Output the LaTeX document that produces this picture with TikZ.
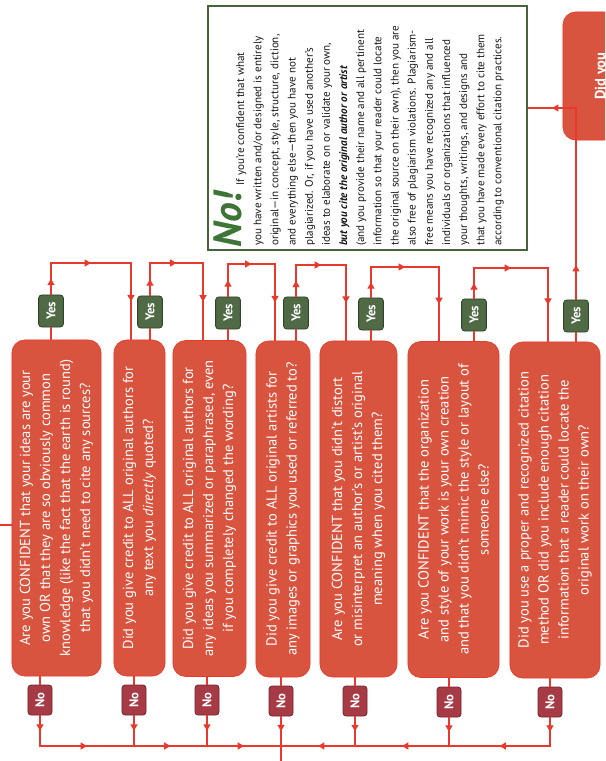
\documentclass[tikz,border=0pt]{standalone}
\usepackage{fontspec}
\setmainfont{PT Sans}
\usepackage{graphicx}
\usetikzlibrary{positioning,arrows.meta,decorations.markings}

\definecolor{flowred}{HTML}{E8392C}
\definecolor{boxred}{HTML}{D9543F}
\definecolor{yesgreen}{HTML}{4F6A45}
\definecolor{yesdark}{HTML}{2F4527}
\definecolor{nored}{HTML}{A63A45}
\definecolor{nodark}{HTML}{7A2430}
\definecolor{framegreen}{HTML}{46633A}
\definecolor{nogreen}{HTML}{3E7436}

% text that reads from bottom to top
\newcommand{\uptext}[2]{\rotatebox{90}{\parbox{#1}{\centering #2}}}

\begin{document}
\begin{tikzpicture}[x=0.025cm, y=-0.025cm,
	question/.style={rectangle, draw=flowred, line width=0.5pt, fill=boxred,
		rounded corners=3.2mm, text=white, inner sep=0pt,
		font=\fontsize{10.3}{14.2}\selectfont},
	yes/.style={rectangle, draw=yesdark, line width=0.6pt, fill=yesgreen,
		rounded corners=0.8mm, text=white, inner sep=0pt,
		minimum width=0.62cm, minimum height=0.8cm,
		font=\fontsize{9}{10}\selectfont\bfseries},
	no/.style={rectangle, draw=nodark, line width=0.6pt, fill=nored,
		rounded corners=0.8mm, text=white, inner sep=0pt,
		minimum width=0.6cm, minimum height=0.75cm,
		font=\fontsize{9}{10}\selectfont\bfseries},
	nopanel/.style={rectangle, draw=framegreen, line width=1.6pt, fill=white},
	flow/.style={draw=flowred, line width=0.8pt, line cap=rect},
	midarrow/.style={postaction={decorate}, decoration={markings,
		mark=at position #1 with {\arrow[flowred]{Triangle[length=4.5pt, width=5pt]}}}},
	midarrow/.default=0.5
	]
	\useasboundingbox (0,0) rectangle (605,761);
	\clip (0,0) rectangle (605,761);
	\fill[white] (0,0) rectangle (605,761);

	% questions
	\node (q1) [question, minimum width=2.225cm, minimum height=8.4cm] at (56.5,508)
		{\uptext{8.2cm}{Are you CONFIDENT that your ideas are your\\ own OR that they are so obviously common\\ knowledge (like the fact that the earth is round)\\ that you didn't need to cite any sources?}};
	\node (q2) [question, minimum width=1.275cm, minimum height=8.4cm] at (139.5,508)
		{\uptext{8.2cm}{Did you give credit to ALL original authors for\\ any text you \textit{directly} quoted?}};
	\node (q3) [question, minimum width=1.825cm, minimum height=8.4cm] at (209.5,508.5)
		{\uptext{8.2cm}{Did you give credit to ALL original authors for\\ any ideas you summarized or paraphrased, even\\ if you completely changed the wording?}};
	\node (q4) [question, minimum width=1.35cm, minimum height=8.4cm] at (283,509)
		{\uptext{8.2cm}{Did you give credit to ALL original artists for\\ any images or graphics you used or referred to?}};
	\node (q5) [question, minimum width=1.925cm, minimum height=8.4cm] at (358.5,509)
		{\uptext{8.2cm}{Are you CONFIDENT that you didn't distort\\ or misinterpret an author's or artist's original\\ meaning when you cited them?}};
	\node (q6) [question, minimum width=2.275cm, minimum height=8.4cm] at (453.5,509.5)
		{\uptext{8.2cm}{Are you CONFIDENT that the organization\\ and style of your work is your own creation\\ and that you didn't mimic the style or layout of\\ someone else?}};
	\node (q7) [question, minimum width=2.25cm, minimum height=8.4cm] at (555,510)
		{\uptext{8.2cm}{Did you use a proper and recognized citation\\ method OR did you include enough citation\\ information that a reader could locate the\\ original work on their own?}};
	\node (q8) [question, font=\fontsize{10.3}{14.2}\selectfont\bfseries,
		minimum width=1.925cm, minimum height=3.2cm] at (601.5,76)
		{\rotatebox{90}{Did you}};

	% answers
	\node (yes1) [yes] at (51,311) {\rotatebox{90}{Yes}};
	\node (yes2) [yes] at (150,312) {\rotatebox{90}{Yes}};
	\node (yes3) [yes] at (228,313) {\rotatebox{90}{Yes}};
	\node (yes4) [yes] at (296,313) {\rotatebox{90}{Yes}};
	\node (yes5) [yes] at (371,314) {\rotatebox{90}{Yes}};
	\node (yes6) [yes] at (474,315) {\rotatebox{90}{Yes}};
	\node (yes7) [yes] at (576,316) {\rotatebox{90}{Yes}};

	\node (no1) [no] at (40,700) {\rotatebox{90}{No}};
	\node (no2) [no] at (134,700) {\rotatebox{90}{No}};
	\node (no3) [no] at (207,700) {\rotatebox{90}{No}};
	\node (no4) [no] at (281,701) {\rotatebox{90}{No}};
	\node (no5) [no] at (355,701) {\rotatebox{90}{No}};
	\node (no6) [no] at (449,702) {\rotatebox{90}{No}};
	\node (no7) [no] at (550,702) {\rotatebox{90}{No}};

	% the No! panel
	\node (nobox) [nopanel, minimum width=7.975cm, minimum height=6.1cm] at (367.5,128) {};
	\node (nohead) [text=nogreen, inner sep=0pt,
		font=\fontsize{28}{28}\selectfont\bfseries\itshape] at (228,220) {\rotatebox{90}{No!}};
	\node (notext) [anchor=south west, inner sep=0pt, text=black!90,
		font=\fontsize{7.9}{12.2}\selectfont] at (236,246)
		{\rotatebox{90}{\parbox[t]{6.4cm}{\raggedright
		\hspace*{1.5cm}If you're confident that what\\
		you have written and/or designed is entirely\\
		original---in concept, style, structure, diction,\\
		and everything else---then you have not\\
		plagiarized. Or, if you have used another's\\
		ideas to elaborate on or validate your own,\\
		\textbf{\textit{but you cite the original author or artist}}\\
		(and you provide their name and all pertinent\\
		information so that your reader could locate\\
		the original source on their own), then you are\\
		also free of plagiarism violations. Plagiarism-\\
		free means you have recognized any and all\\
		individuals or organizations that influenced\\
		your thoughts, writings, and designs and\\
		that you have made every effort to cite them\\
		according to conventional citation practices.}}};

	% connectors
	\coordinate (bus) at (0,746);
	\coordinate (entry) at (0,525);
	\coordinate (exit) at (281,761);
	\coordinate (c1) at (131,263);
	\coordinate (c2) at (203,263);
	\coordinate (c3) at (275,264);
	\coordinate (c4) at (346,265);
	\coordinate (c5) at (439,267);
	\coordinate (c6) at (548,268);
	\coordinate (c7) at (576,108);

	\draw[flow] (entry) -- (entry -| q1.west);

	\draw[flow] (yes1.south) -- (yes1 |- q1.north);
	\draw[flow] (yes2.south) -- (yes2 |- q2.north);
	\draw[flow] (yes3.south) -- (yes3 |- q3.north);
	\draw[flow] (yes4.south) -- (yes4 |- q4.north);
	\draw[flow] (yes5.south) -- (yes5 |- q5.north);
	\draw[flow] (yes6.south) -- (yes6 |- q6.north);
	\draw[flow] (yes7.south) -- (yes7 |- q7.north);

	\draw[flow, midarrow] (yes1.north) -- (yes1 |- c1);
	\draw[flow, midarrow] (yes1 |- c1) -- (c1);
	\draw[flow, midarrow] (c1) -- (c1 |- q2.north);
	\draw[flow, midarrow] (yes2.north) -- (yes2 |- c2);
	\draw[flow, midarrow] (yes2 |- c2) -- (c2);
	\draw[flow, midarrow] (c2) -- (c2 |- q3.north);
	\draw[flow, midarrow] (yes3.north) -- (yes3 |- c3);
	\draw[flow, midarrow] (yes3 |- c3) -- (c3);
	\draw[flow, midarrow] (c3) -- (c3 |- q4.north);
	\draw[flow, midarrow] (yes4.north) -- (yes4 |- c4);
	\draw[flow, midarrow] (yes4 |- c4) -- (c4);
	\draw[flow, midarrow] (c4) -- (c4 |- q5.north);
	\draw[flow, midarrow] (yes5.north) -- (yes5 |- c5);
	\draw[flow, midarrow] (yes5 |- c5) -- (c5);
	\draw[flow, midarrow] (c5) -- (c5 |- q6.north);
	\draw[flow, midarrow] (yes6.north) -- (yes6 |- c6);
	\draw[flow, midarrow] (yes6 |- c6) -- (c6);
	\draw[flow, midarrow] (c6) -- (c6 |- q7.north);
	\draw[flow, midarrow=0.18] (yes7.north) -- (c7);
	\draw[flow, midarrow] (c7) -- (c7 -| nobox.east);

	\draw[flow] (no1 |- q1.south) -- (no1.north);
	\draw[flow] (no2 |- q2.south) -- (no2.north);
	\draw[flow] (no3 |- q3.south) -- (no3.north);
	\draw[flow] (no4 |- q4.south) -- (no4.north);
	\draw[flow] (no5 |- q5.south) -- (no5.north);
	\draw[flow] (no6 |- q6.south) -- (no6.north);
	\draw[flow] (no7 |- q7.south) -- (no7.north);

	\draw[flow, midarrow] (no1.south) -- (no1 |- bus);
	\draw[flow, midarrow] (no2.south) -- (no2 |- bus);
	\draw[flow, midarrow] (no3.south) -- (no3 |- bus);
	\draw[flow, midarrow] (no4.south) -- (no4 |- bus);
	\draw[flow, midarrow] (no5.south) -- (no5 |- bus);
	\draw[flow, midarrow] (no6.south) -- (no6 |- bus);
	\draw[flow, midarrow] (no7.south) -- (no7 |- bus);

	\draw[flow, midarrow] (no1 |- bus) -- (no2 |- bus);
	\draw[flow, midarrow] (no2 |- bus) -- (no3 |- bus);
	\draw[flow, midarrow] (no3 |- bus) -- (no4 |- bus);
	\draw[flow, midarrow] (no5 |- bus) -- (no4 |- bus);
	\draw[flow, midarrow] (no6 |- bus) -- (no5 |- bus);
	\draw[flow, midarrow] (no7 |- bus) -- (no6 |- bus);
	\draw[flow] (no4 |- bus) -- (exit);
\end{tikzpicture}
\end{document}
